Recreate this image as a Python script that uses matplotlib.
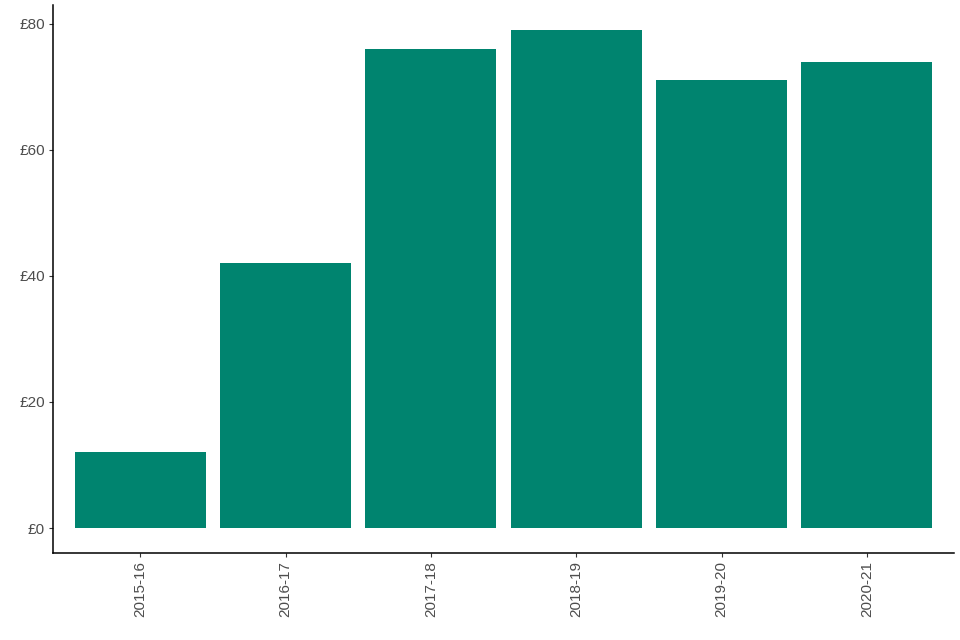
import matplotlib
matplotlib.use("Agg")
import matplotlib.pyplot as plt
import numpy as np

# Data
years = ["2015-16", "2016-17", "2017-18", "2018-19", "2019-20", "2020-21"]
values = [12, 42, 76, 79, 71, 74]
yticks = [0, 20, 40, 60, 80]
ytick_labels = ["£0", "£20", "£40", "£60", "£80"]

plt.rcParams['font.family'] = ['Liberation Sans', 'DejaVu Sans']

fig = plt.figure(figsize=(9.6, 6.4), dpi=100)
ax = fig.add_axes([0.0552, 0.136, 0.9386, 0.856])

x = np.arange(1, len(years) + 1)
ax.bar(x, values, width=0.9, color="#00846f")

# ggplot-style expansion
ax.set_xlim(0.4, len(years) + 0.6)
ax.set_ylim(-0.05 * max(values), max(values) * 1.05)

ax.set_xticks(x)
ax.set_xticklabels(years, rotation=90, fontsize=11, color="#4d4d4d")
ax.set_yticks(yticks)
ax.set_yticklabels(ytick_labels, fontsize=11, color="#4d4d4d")
ax.tick_params(length=3, width=0.8, color="#333333", pad=3)

for side in ["top", "right"]:
    ax.spines[side].set_visible(False)
for side in ["left", "bottom"]:
    ax.spines[side].set_linewidth(1.1)

fig.savefig("out.png", dpi=100)
